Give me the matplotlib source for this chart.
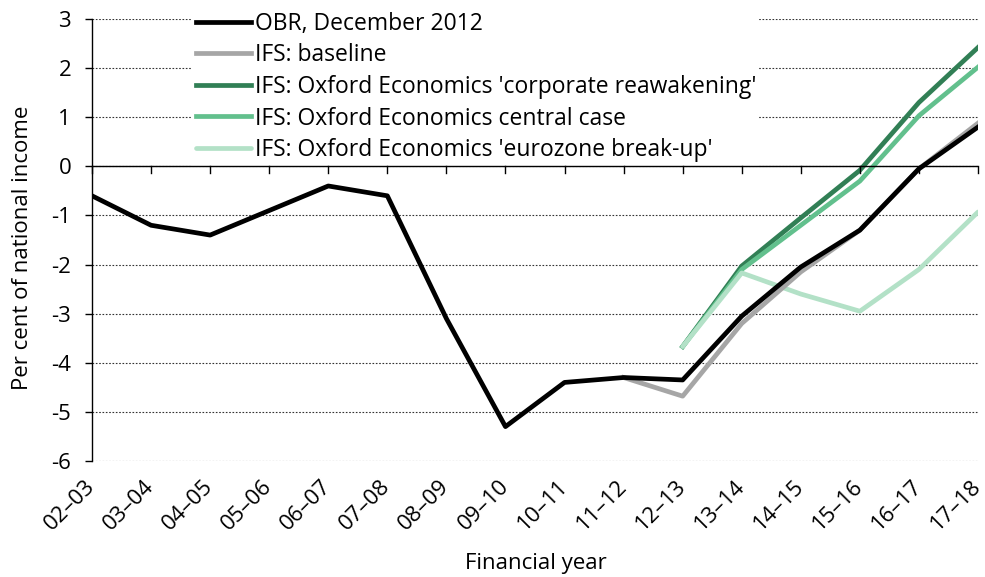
import matplotlib
matplotlib.use('Agg')
import matplotlib.pyplot as plt
import matplotlib.transforms as mtrans

plt.rcParams['font.family'] = ['Open Sans', 'DejaVu Sans']

years = ['02–03', '03–04', '04–05', '05–06', '06–07', '07–08', '08–09', '09–10',
         '10–11', '11–12', '12–13', '13–14', '14–15', '15–16', '16–17', '17–18']

# OBR, December 2012 (all years)
obr = [-0.6, -1.2, -1.4, -0.9, -0.4, -0.6, -3.1, -5.3,
       -4.4, -4.3, -4.35, -3.05, -2.05, -1.3, -0.05, 0.8]

# IFS series start later
ifs_base_years = years[9:]
ifs_base = [-4.3, -4.68, -3.2, -2.15, -1.3, -0.05, 0.88]

oe_years = years[10:]
oe_corp = [-3.67, -2.03, -1.05, -0.08, 1.3, 2.42]
oe_central = [-3.67, -2.1, -1.2, -0.3, 1.03, 2.02]
oe_euro = [-3.67, -2.17, -2.6, -2.95, -2.1, -0.93]

fig = plt.figure(figsize=(9.85, 5.77), dpi=100)
ax = fig.add_axes([92/985, 1 - 461/577, 886/985, 442/577])

x_all = list(range(len(years)))
pos = {y: i for i, y in enumerate(years)}

lw = 3.4
ax.plot(x_all, obr, color='black', lw=lw, label='OBR, December 2012', zorder=5)
ax.plot([pos[y] for y in ifs_base_years], ifs_base, color='#a6a6a6', lw=lw,
        label='IFS: baseline', zorder=4)
ax.plot([pos[y] for y in oe_years], oe_corp, color='#317f55', lw=lw,
        label="IFS: Oxford Economics 'corporate reawakening'", zorder=3)
ax.plot([pos[y] for y in oe_years], oe_central, color='#62c08d', lw=lw,
        label='IFS: Oxford Economics central case', zorder=3)
ax.plot([pos[y] for y in oe_years], oe_euro, color='#b3e1c7', lw=lw,
        label="IFS: Oxford Economics 'eurozone break-up'", zorder=3, solid_capstyle='round')

ax.set_xlim(0, len(years) - 1)
ax.set_ylim(-6, 3)
ax.set_yticks(range(-6, 4))
ax.set_yticklabels([str(v) for v in range(-6, 4)])
ax.set_xticks(x_all)
ax.set_xticklabels(years, rotation=45, ha='right', va='center', rotation_mode='anchor')
shift = mtrans.ScaledTranslation(5/100, 0, fig.dpi_scale_trans)
for lab in ax.get_xticklabels():
    lab.set_transform(lab.get_transform() + shift)

ax.yaxis.grid(True, linestyle=(0, (1.5, 1.5)), color='#333333', lw=0.8)
ax.set_axisbelow(True)

for s in ['top', 'right', 'bottom']:
    ax.spines[s].set_visible(False)
ax.spines['left'].set_linewidth(1)
ax.spines['left'].set_color('black')

# horizontal axis line at zero, ticks pointing down from it (kept above legend box)
ax.axhline(0, color='black', lw=1, zorder=11)
for i in x_all:
    ax.plot([i, i], [0, -0.14], color='black', lw=1, zorder=11, clip_on=False)

ax.tick_params(axis='x', length=0, labelsize=16, pad=16)
ax.tick_params(axis='y', length=5, width=1, labelsize=16, pad=10)

fig.text(23/985, 1 - 248/577, 'Per cent of national income', fontsize=16,
         rotation=90, ha='center', va='center')
fig.text(536/985, 1 - 563/577, 'Financial year', fontsize=16,
         ha='center', va='center')

leg = ax.legend(loc='upper left', bbox_to_anchor=(0.113, 1.024), fontsize=16.5,
                frameon=True, fancybox=False, edgecolor='none', facecolor='white',
                framealpha=1, handlelength=2.4, handletextpad=0.18,
                labelspacing=0.33, borderpad=0.15, borderaxespad=0)
leg.set_zorder(10)

fig.savefig('out.png', dpi=100)
